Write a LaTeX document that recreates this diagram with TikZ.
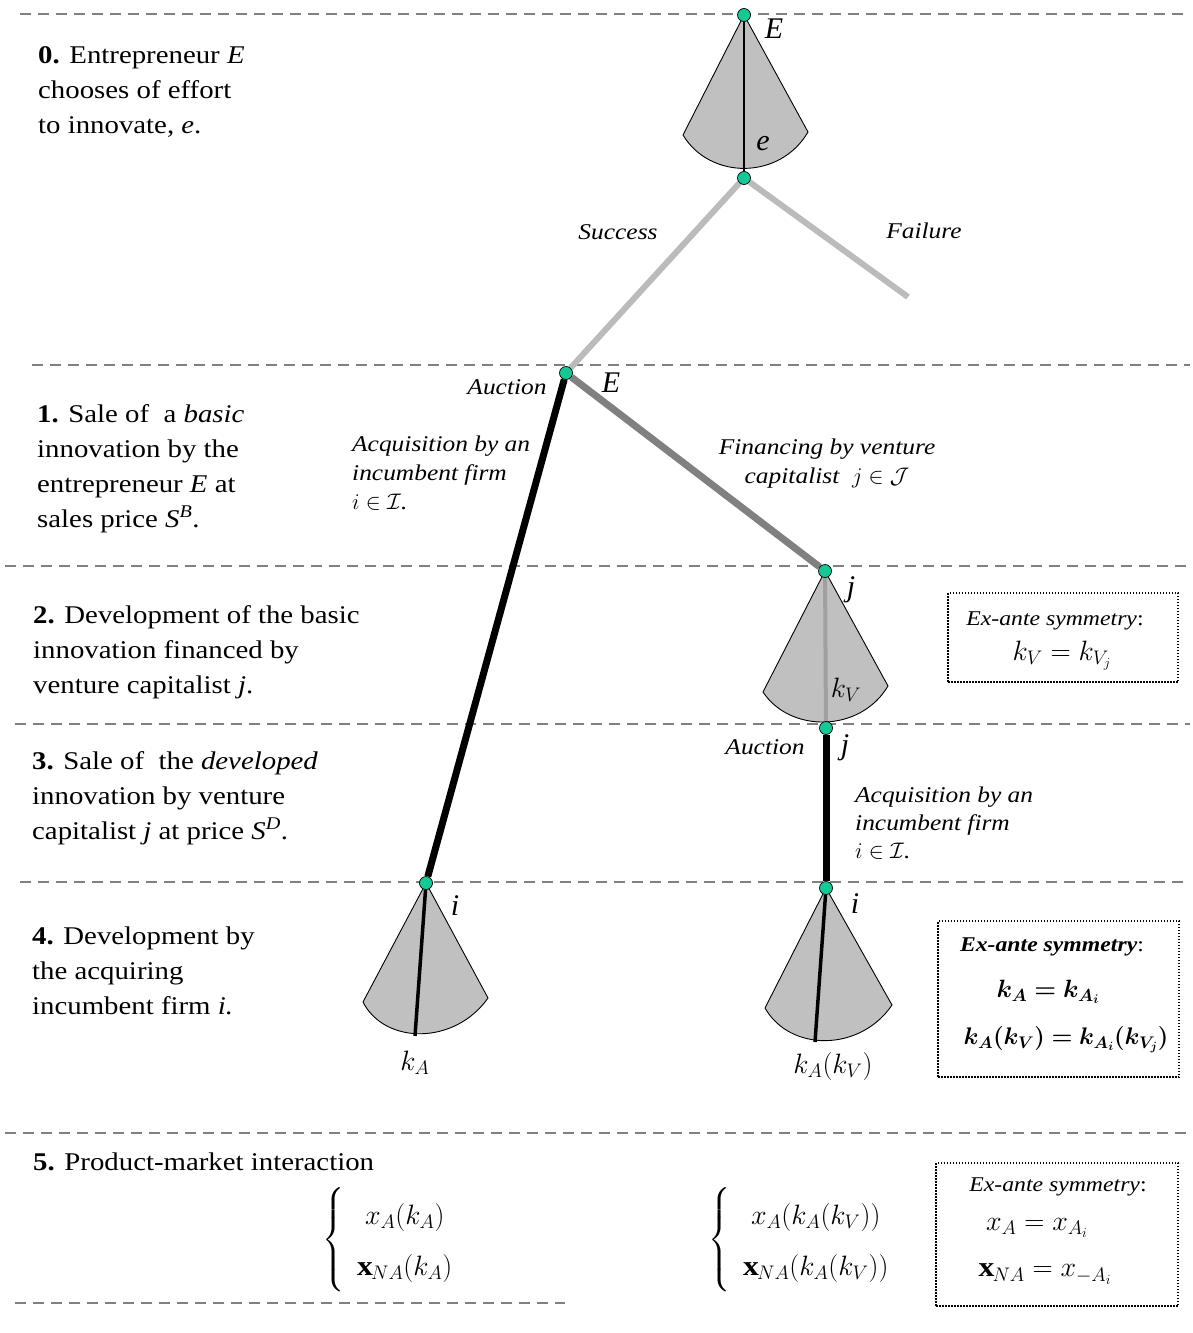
\RequirePackage{fix-cm}
\documentclass[tikz,border=0pt]{standalone}
\usepackage{amsmath}
\usepackage{bm}
\usepackage{fontspec}
\setmainfont{Liberation Serif}[FakeStretch=1.13]
\newfontfamily\letterfont{Liberation Serif}
\usetikzlibrary{positioning,backgrounds}
\definecolor{nodegreen}{RGB}{22,200,150}
\definecolor{fangray}{RGB}{192,192,192}
\definecolor{dashgray}{RGB}{128,128,128}
\definecolor{succgray}{RGB}{187,187,187}
\definecolor{vcgray}{RGB}{128,128,128}

\begin{document}
\begin{tikzpicture}[x=1pt, y=-1pt,
    font=\fontsize{25.5}{35}\selectfont,
    divider/.style={draw=dashgray, line width=2.6pt, dash pattern=on 11pt off 7pt},
    dec/.style={circle, draw=black, fill=nodegreen, line width=0.7pt, inner sep=0pt, minimum size=13pt},
    fan/.style={fill=fangray, draw=black, line width=0.9pt},
    faint/.style={draw=succgray, line width=6pt},
    vcline/.style={draw=vcgray, line width=7pt},
    buyline/.style={draw=black, line width=7pt},
    stage/.style={anchor=north west, align=left, inner sep=0pt},
    move/.style={font=\fontsize{22.5}{29}\selectfont\itshape, inner sep=0pt},
    player/.style={font=\fontsize{30}{30}\selectfont\letterfont\itshape, inner sep=0pt},
    mlab/.style={font=\fontsize{28}{30}\selectfont, inner sep=0pt},
    head/.style={font=\fontsize{21}{24}\selectfont, inner sep=0pt},
    symbox/.style={draw, line width=2pt, dash pattern=on 1.5pt off 1.5pt, inner sep=0pt}
]
\useasboundingbox (0,0) rectangle (1193,1333);

% decision nodes
\node[dec] (E0) at (744,15) {};
\node[dec] (eff) at (744,178) {};
\node[dec] (auc) at (566,373) {};
\node[dec] (vc) at (825,571) {};
\node[dec] (vcauc) at (826,728) {};
\node[dec] (incA) at (426,883) {};
\node[dec] (incV) at (826,888) {};
\coordinate (fail) at (908,297);
\coordinate (kAend) at (415,1036);
\coordinate (kVend) at (815,1042);

\begin{scope}[on background layer]
  \foreach \y/\a/\b in {14/20/1190, 365/32/1190, 566/5/1190, 724/15/1190, 882/20/1190, 1133/5/1190, 1303/15/565}
    \draw[divider] (\a,\y) -- (\b,\y);
  % fans
  \filldraw[fan] (E0.center) -- (683,135) .. controls (710,180) and (780,180) .. (808,132) -- cycle;
  \filldraw[fan] (vc.center) -- (763,692) .. controls (790,733) and (860,733) .. (888,686) -- cycle;
  \filldraw[fan] (incA.center) -- (363,1002) .. controls (385,1045) and (455,1045) .. (488,998) -- cycle;
  \filldraw[fan] (incV.center) -- (765,1008) .. controls (790,1052) and (860,1052) .. (892,1005) -- cycle;
  \draw[line width=1.6pt] (E0) -- (eff);
  \draw[line width=4pt, vcgray!75] (vc) -- (vcauc);
  \draw[line width=3.5pt] (incA) -- (kAend);
  \draw[line width=3.5pt] (incV) -- (kVend);
  % branches
  \draw[faint] (eff) -- (auc);
  \draw[faint] (eff) -- (fail);
  \draw[buyline] (auc) -- (incA);
  \draw[vcline] (auc) -- (vc);
  \draw[buyline] (vcauc) -- (incV);
\end{scope}

% stages
\node[stage] (s0) at (38,46) {\textbf{0.} Entrepreneur \textit{E}\\chooses of effort\\to innovate, \textit{e}.};
\node[stage] (s1) at (37,404) {\textbf{1.} Sale of~ a \textit{basic}\\innovation by the\\entrepreneur \textit{E} at\\sales price \textit{S}\textsuperscript{\textit{B}}.};
\node[stage] (s2) at (33,605) {\textbf{2.} Development of the basic\\innovation financed by\\venture capitalist \textit{j}.};
\node[stage] (s3) at (32,751) {\textbf{3.} Sale of~ the \textit{developed}\\innovation by venture\\capitalist \textit{j} at price \textit{S}\textsuperscript{\textit{D}}.};
\node[stage] (s4) at (32,927) {\textbf{4.} Development by\\the acquiring\\incumbent firm \textit{i.}};
\node[stage] (s5) at (33,1153) {\textbf{5.} Product-market interaction};

% labels on the tree
\node[player] (labE0) at (774,29) {E};
\node[player] (labe) at (763,144) {e};
\node[move] (succ) at (618,232) {Success};
\node[move] (failL) at (924,231) {Failure};
\node[move] (aucL) at (507,387) {Auction};
\node[player] (labE1) at (611,383) {E};
\node[move, anchor=west, align=left] (acqA) at (352,473) {Acquisition by an\\incumbent firm\\$i \in \mathcal{I}$.};
\node[move, align=center] (fin) at (827,464) {Financing by venture\\capitalist~ $j \in \mathcal{J}$};
\node[player] (labj) at (851,590) {j};
\node[mlab] (kV) at (846,690) {$k_V$};
\node[move] (aucV) at (765,747) {Auction};
\node[player] (labj2) at (845,748) {j};
\node[move, anchor=west, align=left, font=\fontsize{22.5}{28}\selectfont\itshape] (acqV) at (855,823) {Acquisition by an\\incumbent firm\\$i \in \mathcal{I}$.};
\node[player] (labiA) at (455,906) {i};
\node[player] (labiV) at (855,904) {i};
\node[mlab] (kA) at (415,1063) {$k_A$};
\node[mlab] (kAkV) at (833,1066) {$k_A(k_V)$};

% ex-ante symmetry boxes
\node[symbox, minimum width=230pt, minimum height=89pt] (symV) at (1063,637.5) {};
\node[head] (symVh) at (1055,621) {\textit{Ex-ante symmetry}:};
\node[mlab] (symVf) at (1062,656) {$k_V = k_{V_j}$};

\node[symbox, minimum width=241pt, minimum height=156pt] (symA) at (1058.5,999) {};
\node[head] (symAh) at (1052,947) {\textbf{\textit{Ex-ante symmetry}}:};
\node[mlab, font=\fontsize{25}{30}\selectfont] (symAf) at (1048,992) {$\bm{k_A = k_{A_i}}$};
\node[mlab, font=\fontsize{24}{30}\selectfont] (symAg) at (1066,1040) {$\bm{k_A(k_V) = k_{A_i}(k_{V_j})}$};

\node[symbox, minimum width=242pt, minimum height=143pt] (symX) at (1057,1234.5) {};
\node[head] (symXh) at (1058,1187) {\textit{Ex-ante symmetry}:};
\node[mlab] (symXf) at (1037,1228) {$x_A = x_{A_i}$};
\node[mlab] (symXg) at (1045,1274) {$\mathbf{x}_{NA} = x_{-A_i}$};

% product-market outcomes
\node[mlab, anchor=west] (outA) at (322,1240) {\renewcommand{\arraystretch}{1.7}$\left\{\;\begin{array}{c} x_A(k_A)\\ \mathbf{x}_{NA}(k_A)\end{array}\right.$};
\node[mlab, anchor=west] (outV) at (708,1240) {\renewcommand{\arraystretch}{1.7}$\left\{\;\begin{array}{c} x_A(k_A(k_V))\\ \mathbf{x}_{NA}(k_A(k_V))\end{array}\right.$};
\end{tikzpicture}
\end{document}
